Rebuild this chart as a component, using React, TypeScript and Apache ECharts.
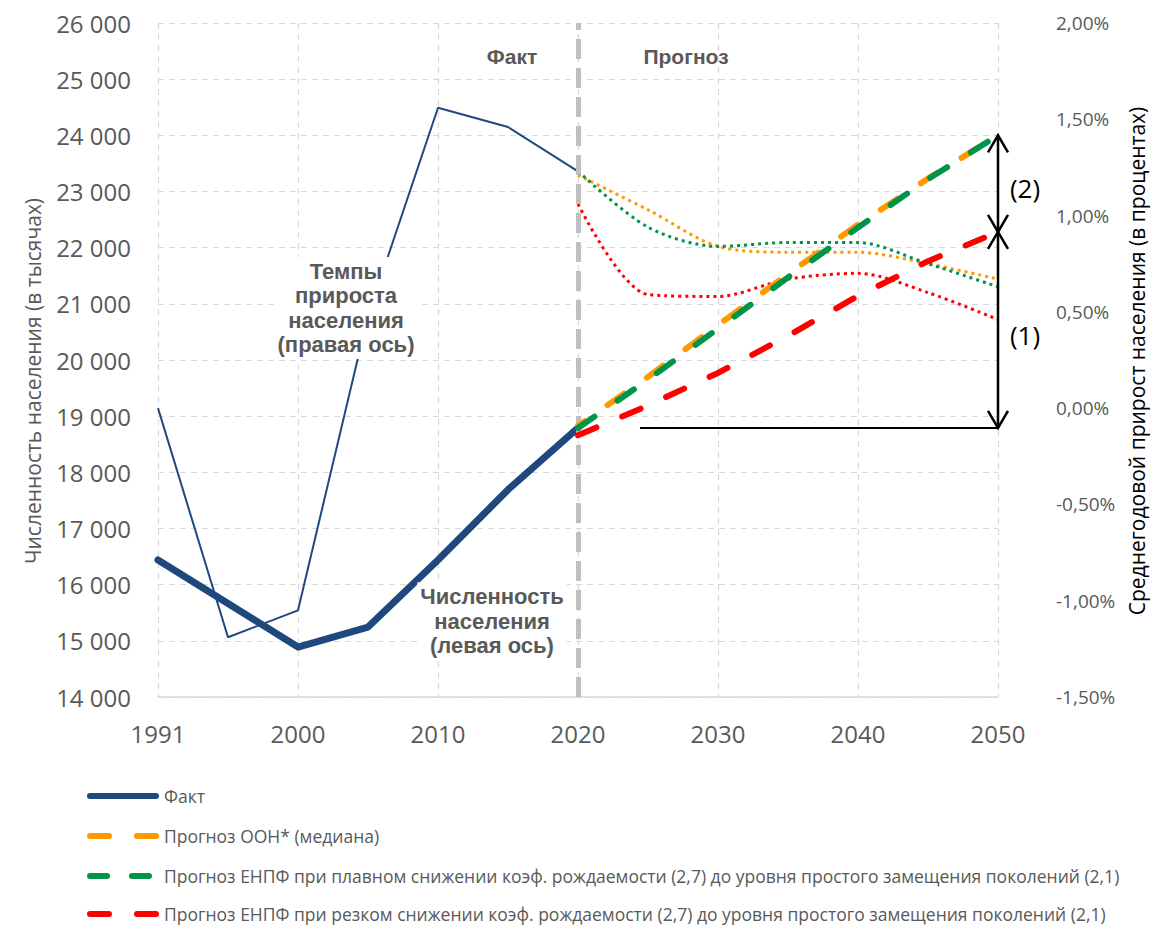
import React, { useEffect, useRef } from "react";
import * as echarts from "echarts";

const years = ["1991", "1995", "2000", "2005", "2010", "2015", "2020", "2025", "2030", "2035", "2040", "2045", "2050"];

const popFact = [16440, 15665, 14890, 15245, 16440, 17690, 18790, null, null, null, null, null, null];
const growthFact = [0.0, -1.19, -1.05, 0.48, 1.56, 1.46, 1.23, null, null, null, null, null, null];

const popUN = [null, null, null, null, null, null, 18830, 19700, 20620, 21530, 22410, 23230, 24000];
const popSmooth = [null, null, null, null, null, null, 18790, 19650, 20560, 21470, 22360, 23220, 24000];
const popSharp = [null, null, null, null, null, null, 18660, 19190, 19770, 20430, 21140, 21760, 22280];

const growthUN = [null, null, null, null, null, null, 1.21, 1.03, 0.84, 0.81, 0.81, 0.75, 0.67];
const growthSmooth = [null, null, null, null, null, null, 1.23, 0.94, 0.84, 0.86, 0.86, 0.75, 0.63];
const growthSharp = [null, null, null, null, null, null, 1.06, 0.59, 0.58, 0.67, 0.7, 0.6, 0.46];

const names = {
  fact: "Факт",
  un: "Прогноз ООН* (медиана)",
  smooth: "Прогноз ЕНПФ при плавном снижении коэф. рождаемости (2,7) до уровня простого замещения поколений (2,1)",
  sharp: "Прогноз ЕНПФ при резком снижении коэф. рождаемости (2,7) до уровня простого замещения поколений (2,1)",
};

const C_FACT = "#1F497D";
const C_UN = "#FF9900";
const C_GREEN = "#00934A";
const C_RED = "#FF0000";
const GREY_TXT = "#595959";
const FONT = "'Open Sans', 'Noto Sans', sans-serif";
const BOLD_FONT = "'Liberation Sans', Arial, sans-serif";

const ICON_SOLID = "path://M3,0H69A3,3 0 0 1 69,6H3A3,3 0 0 1 3,0Z";
const ICON_DASH = "path://M3,0H22A3,3 0 0 1 22,6H3A3,3 0 0 1 3,0Z M50,0H69A3,3 0 0 1 69,6H50A3,3 0 0 1 50,0Z";
const ICON_DASH_G = "path://M3,0H20A3,3 0 0 1 20,6H3A3,3 0 0 1 3,0Z M45,0H62A3,3 0 0 1 62,6H45A3,3 0 0 1 45,0Z M72,3L72,3.01";

function fmtThousands(v: number) {
  return String(v).replace(/\B(?=(\d{3})+(?!\d))/g, " ");
}

export default function App() {
  const ref = useRef<HTMLDivElement>(null);

  useEffect(() => {
    document.body.style.margin = "0";
    if (!ref.current) return;
    const chart = echarts.init(ref.current, null, { renderer: "svg" });

    const dashed = [20, 28];
    const dotted = [3, 4];

    const legendItem = (name: string, icon: string, centerY: number) => ({
      orient: "vertical",
      left: 87,
      top: centerY - 9,
      padding: 0,
      itemWidth: 72,
      itemHeight: 6,
      textStyle: { fontSize: 17.5, lineHeight: 18, color: GREY_TXT, fontFamily: FONT },
      data: [{ name, icon }],
    });

    const option: any = {
      animation: false,
      backgroundColor: "#ffffff",
      grid: { left: 158, right: 157, top: 23, bottom: 230 },
      legend: [
        legendItem(names.fact, ICON_SOLID, 796),
        legendItem(names.un, ICON_DASH, 836),
        legendItem(names.smooth, ICON_DASH_G, 876),
        legendItem(names.sharp, ICON_DASH, 914),
      ],
      xAxis: {
        type: "category",
        data: years,
        boundaryGap: false,
        axisLine: { onZero: false, lineStyle: { color: "#D9D9D9", width: 1.5 } },
        axisTick: { show: false },
        axisLabel: { interval: 1, color: GREY_TXT, fontSize: 24, fontFamily: FONT, margin: 24 },
        splitLine: { show: true, interval: 1, lineStyle: { color: "#D9D9D9", type: [6, 5], width: 1.2 } },
      },
      yAxis: [
        {
          type: "value",
          min: 14000,
          max: 26000,
          interval: 1000,
          axisLine: { show: false },
          axisTick: { show: false },
          axisLabel: { color: GREY_TXT, fontSize: 24, fontFamily: FONT, margin: 27, formatter: (v: number) => fmtThousands(v) },
          splitLine: { show: true, lineStyle: { color: "#D9D9D9", type: [6, 5], width: 1.2 } },
        },
        {
          type: "value",
          min: -1.5,
          max: 2.0,
          interval: 0.5,
          position: "right",
          axisLine: { show: false },
          axisTick: { show: false },
          axisLabel: {
            color: GREY_TXT,
            fontSize: 19,
            fontFamily: FONT,
            margin: 58,
            formatter: (v: number) => v.toFixed(2).replace(".", ",") + "%",
          },
          splitLine: { show: false },
        },
      ],
      series: [
        {
          name: "Факт темпы",
          type: "line",
          yAxisIndex: 1,
          data: growthFact,
          symbol: "none",
          lineStyle: { color: C_FACT, width: 2 },
          itemStyle: { color: C_FACT },
          z: 3,
        },
        {
          name: names.fact,
          type: "line",
          yAxisIndex: 0,
          data: popFact,
          symbol: "none",
          lineStyle: { color: C_FACT, width: 7, cap: "round", join: "round" },
          itemStyle: { color: C_FACT },
          z: 4,
          markLine: {
            silent: true,
            symbol: "none",
            label: { show: false },
            lineStyle: { color: "#BFBFBF", width: 5, type: [20, 9] },
            data: [{ xAxis: "2020" }],
          },
        },
        {
          name: "ООН темпы",
          type: "line",
          yAxisIndex: 1,
          data: growthUN,
          symbol: "none",
          smooth: 0.3,
          lineStyle: { color: C_UN, width: 3, type: dotted },
          itemStyle: { color: C_UN },
          z: 3,
        },
        {
          name: "плавн темпы",
          type: "line",
          yAxisIndex: 1,
          data: growthSmooth,
          symbol: "none",
          smooth: 0.3,
          lineStyle: { color: C_GREEN, width: 3, type: dotted },
          itemStyle: { color: C_GREEN },
          z: 3,
        },
        {
          name: "резк темпы",
          type: "line",
          yAxisIndex: 1,
          data: growthSharp,
          symbol: "none",
          smooth: 0.3,
          lineStyle: { color: C_RED, width: 3, type: dotted },
          itemStyle: { color: C_RED },
          z: 3,
        },
        {
          name: names.sharp,
          type: "line",
          yAxisIndex: 0,
          data: popSharp,
          symbol: "none",
          lineStyle: { color: C_RED, width: 6, type: dashed, cap: "round" },
          itemStyle: { color: C_RED },
          z: 5,
        },
        {
          name: names.un,
          type: "line",
          yAxisIndex: 0,
          data: popUN,
          symbol: "none",
          lineStyle: { color: C_UN, width: 6, type: dashed, dashOffset: 12, cap: "round" },
          itemStyle: { color: C_UN },
          z: 5,
        },
        {
          name: names.smooth,
          type: "line",
          yAxisIndex: 0,
          data: popSmooth,
          symbol: "none",
          lineStyle: { color: C_GREEN, width: 6, type: dashed, cap: "round" },
          itemStyle: { color: C_GREEN },
          z: 6,
        },
      ],
    };

    chart.setOption(option);

    const finder = { xAxisIndex: 0, yAxisIndex: 0 };
    const last = years.length - 1;
    const idx2020 = years.indexOf("2020");
    const [ax, yTop] = chart.convertToPixel(finder, [last, popSmooth[last] as number]) as number[];
    const [, yMid] = chart.convertToPixel(finder, [last, popSharp[last] as number]) as number[];
    const [x2020, yBot] = chart.convertToPixel(finder, [idx2020, popFact[idx2020] as number]) as number[];

    const hw = 10;
    const hl = 17;
    const arrowStyle = { stroke: "#000", lineWidth: 2.5, fill: "none" };

    const boldText = (text: string, x: number, y: number, bg: boolean) => ({
      type: "text",
      x,
      y,
      z: 100,
      style: {
        text,
        fontSize: 22,
        fontWeight: "bold",
        fontFamily: BOLD_FONT,
        fill: GREY_TXT,
        align: "center",
        verticalAlign: "middle",
        lineHeight: 24.5,
        backgroundColor: bg ? "#ffffff" : undefined,
        padding: bg ? [2, 3] : 0,
      },
    });

    const graphic: any[] = [
      {
        type: "text",
        x: 33,
        y: 381,
        rotation: Math.PI / 2,
        style: {
          text: "Численность населения (в тысячах)",
          fontSize: 21,
          fontFamily: FONT,
          fill: GREY_TXT,
          align: "center",
          verticalAlign: "middle",
        },
      },
      {
        type: "text",
        x: 1137,
        y: 361,
        rotation: Math.PI / 2,
        style: {
          text: "Среднегодовой прирост населения (в процентах)",
          fontSize: 21,
          fontFamily: FONT,
          fill: "#000000",
          align: "center",
          verticalAlign: "middle",
        },
      },
      {
        type: "text",
        x: 512,
        y: 56,
        z: 100,
        style: { text: "Факт", fontSize: 21, fontWeight: "bold", fontFamily: BOLD_FONT, fill: GREY_TXT, align: "center", verticalAlign: "middle" },
      },
      {
        type: "text",
        x: 686,
        y: 56,
        z: 100,
        style: { text: "Прогноз", fontSize: 21, fontWeight: "bold", fontFamily: BOLD_FONT, fill: GREY_TXT, align: "center", verticalAlign: "middle" },
      },
      boldText("Темпы\nприроста\nнаселения\n(правая ось)", 346, 308, true),
      boldText("Численность\nнаселения\n(левая ось)", 492, 621, true),
      {
        type: "line",
        z: 100,
        shape: { x1: x2020 + 62, y1: yBot, x2: ax, y2: yBot },
        style: { stroke: "#000", lineWidth: 2 },
      },
      {
        type: "line",
        z: 100,
        shape: { x1: ax, y1: yTop, x2: ax, y2: yBot },
        style: { stroke: "#000", lineWidth: 2.5 },
      },
      { type: "polyline", z: 100, shape: { points: [[ax - hw, yTop + hl], [ax, yTop], [ax + hw, yTop + hl]] }, style: arrowStyle },
      { type: "polyline", z: 100, shape: { points: [[ax - hw, yMid - hl], [ax, yMid], [ax + hw, yMid - hl]] }, style: arrowStyle },
      { type: "polyline", z: 100, shape: { points: [[ax - hw, yMid + hl], [ax, yMid], [ax + hw, yMid + hl]] }, style: arrowStyle },
      { type: "polyline", z: 100, shape: { points: [[ax - hw, yBot - hl], [ax, yBot], [ax + hw, yBot - hl]] }, style: arrowStyle },
      {
        type: "text",
        x: ax + 27,
        y: (yTop + yMid) / 2 + 4,
        z: 100,
        style: { text: "(2)", fontSize: 26, fontFamily: FONT, fill: "#000", align: "center", verticalAlign: "middle" },
      },
      {
        type: "text",
        x: ax + 27,
        y: (yMid + yBot) / 2 + 5,
        z: 100,
        style: { text: "(1)", fontSize: 26, fontFamily: FONT, fill: "#000", align: "center", verticalAlign: "middle" },
      },
    ];

    chart.setOption({ graphic });

    return () => {
      chart.dispose();
    };
  }, []);

  return <div ref={ref} style={{ width: 1155, height: 927 }} />;
}
